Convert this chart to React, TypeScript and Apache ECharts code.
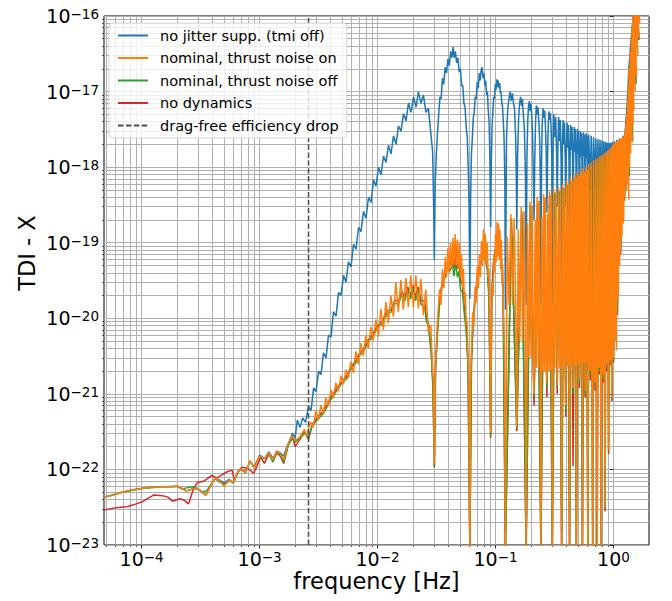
import React, { useEffect, useRef } from 'react';
import * as echarts from 'echarts';

type P = [number, number];

const X_MIN = 4.8e-5;
const X_MAX = 2.0;
const Y_MIN = 1e-23;
const Y_MAX = 1e-16;
const X_DECADES = [-4, -3, -2, -1, 0];
const Y_DECADES = [-23, -22, -21, -20, -19, -18, -17, -16];
const MINOR_MULTS = [2, 3, 4, 5, 6, 7, 8, 9];
const DROP_FREQ = 2.6e-3;

const NAMES = [
  'no jitter supp. (tmi off)',
  'nominal, thrust noise on',
  'nominal, thrust noise off',
  'no dynamics',
  'drag-free efficiency drop',
];

// blue: no jitter suppression
const noJitter: P[] = [
  [4.8e-5, 4.3e-23], [5.5e-5, 4.5e-23], [6.6e-5, 4.9e-23], [8.0e-5, 5.3e-23], [1.0e-4, 5.6e-23],
  [1.2e-4, 5.8e-23], [1.5e-4, 5.9e-23], [1.8e-4, 5.9e-23], [2.0e-4, 6.0e-23], [2.2e-4, 5.6e-23],
  [2.4e-4, 5.2e-23], [2.7e-4, 5.5e-23], [3.0e-4, 5.6e-23], [3.3e-4, 4.9e-23], [3.5e-4, 4.6e-23],
  [3.8e-4, 6.0e-23], [4.2e-4, 7.6e-23], [4.6e-4, 7.2e-23], [5.0e-4, 6.6e-23], [5.5e-4, 7.4e-23],
  [6.0e-4, 6.6e-23], [6.6e-4, 9.5e-23], [7.0e-4, 1.0e-22], [7.6e-4, 9.0e-23], [8.3e-4, 1.3e-22],
  [9.0e-4, 1.05e-22], [1.0e-3, 1.55e-22], [1.1e-3, 1.4e-22], [1.2e-3, 1.7e-22], [1.3e-3, 1.4e-22],
  [1.4e-3, 1.75e-22], [1.5e-3, 1.65e-22], [1.6e-3, 1.5e-22], [1.7e-3, 2.0e-22],
  [1.8e-3, 2.4e-22], [1.9e-3, 3.0e-22], [2.0e-3, 2.6e-22], [2.09e-3, 4.5e-22], [2.2e-3, 3.6e-22],
  [2.32e-3, 4.8e-22], [2.45e-3, 4.2e-22],
  [2.6e-3, 6.8e-22], [2.73e-3, 6.0e-22], [2.87e-3, 1.2e-21], [3.01e-3, 1.07e-21], [3.16e-3, 2.0e-21],
  [3.32e-3, 1.8e-21], [3.48e-3, 3.5e-21], [3.66e-3, 3.0e-21], [3.84e-3, 6.0e-21], [4.03e-3, 5.6e-21],
  [4.23e-3, 1.22e-20], [4.45e-3, 1.07e-20], [4.67e-3, 2.2e-20], [4.9e-3, 2.0e-20], [5.15e-3, 3.7e-20],
  [5.4e-3, 3.0e-20], [5.67e-3, 5.6e-20], [5.96e-3, 4.8e-20], [6.25e-3, 9.5e-20], [6.57e-3, 8.2e-20],
  [6.9e-3, 1.6e-19], [7.24e-3, 1.4e-19], [7.6e-3, 2.6e-19], [7.98e-3, 2.1e-19], [8.38e-3, 4.0e-19],
  [8.8e-3, 3.4e-19], [9.24e-3, 6.8e-19], [9.7e-3, 5.6e-19], [1.019e-2, 1.0e-18], [1.07e-2, 7.9e-19],
  [1.123e-2, 1.4e-18], [1.18e-2, 1.15e-18], [1.238e-2, 1.95e-18], [1.3e-2, 1.5e-18], [1.365e-2, 2.6e-18],
  [1.434e-2, 2.0e-18], [1.505e-2, 3.5e-18], [1.58e-2, 3.0e-18], [1.66e-2, 5.1e-18], [1.743e-2, 4.1e-18],
  [1.83e-2, 7.1e-18], [1.92e-2, 5.3e-18], [2.02e-2, 8.5e-18], [2.12e-2, 6.2e-18], [2.22e-2, 1.0e-17],
  [2.33e-2, 7.0e-18], [2.45e-2, 9.0e-18], [2.57e-2, 5.3e-18], [2.7e-2, 6.0e-18], [2.83e-2, 2.8e-18],
  [2.93e-2, 1.6e-18], [2.98e-2, 4e-19], [3.03e-2, 5.9e-20],
  [3.08e-2, 6e-19], [3.15e-2, 1.5e-18], [3.22e-2, 2.8e-18], [3.3e-2, 5.0e-18], [3.38e-2, 8.5e-18],
  [3.46e-2, 8.0e-18], [3.55e-2, 1.5e-17], [3.64e-2, 1.25e-17], [3.74e-2, 2.1e-17], [3.84e-2, 1.75e-17],
  [3.95e-2, 2.7e-17], [4.06e-2, 2.2e-17], [4.17e-2, 3.4e-17], [4.28e-2, 2.8e-17], [4.37e-2, 3.9e-17],
  [4.47e-2, 2.8e-17], [4.57e-2, 3.4e-17], [4.68e-2, 2.4e-17], [4.8e-2, 2.8e-17], [4.92e-2, 1.8e-17],
  [5.04e-2, 2.0e-17], [5.16e-2, 1.2e-17], [5.28e-2, 1.2e-17], [5.4e-2, 7.0e-18], [5.52e-2, 6.2e-18],
  [5.64e-2, 3.4e-18], [5.76e-2, 2.5e-18], [5.87e-2, 1.0e-18], [5.97e-2, 3e-19], [6.06e-2, 1.8e-20],
  [6.15e-2, 4e-19], [6.25e-2, 1.5e-18], [6.36e-2, 2.4e-18], [6.48e-2, 4.5e-18], [6.6e-2, 5.2e-18],
  [6.73e-2, 8.5e-18], [6.86e-2, 8.0e-18], [7.0e-2, 1.35e-17], [7.14e-2, 1.1e-17], [7.28e-2, 1.75e-17],
  [7.42e-2, 1.4e-17], [7.56e-2, 1.95e-17], [7.7e-2, 2.1e-17], [7.84e-2, 1.5e-17], [7.98e-2, 1.75e-17],
  [8.12e-2, 1.2e-17], [8.26e-2, 1.4e-17], [8.4e-2, 9.0e-18], [8.54e-2, 1.0e-17], [8.68e-2, 5.5e-18],
  [8.82e-2, 4.0e-18], [8.95e-2, 1.5e-18], [9.09e-2, 1.6e-19],
  [9.2e-2, 1.0e-18], [9.35e-2, 3.5e-18], [9.5e-2, 5.5e-18], [9.65e-2, 8.5e-18], [9.8e-2, 8.0e-18],
  [9.95e-2, 1.25e-17], [0.101, 1.05e-17], [0.1025, 1.45e-17], [0.104, 1.15e-17], [0.1055, 1.4e-17],
  [0.107, 1.1e-17], [0.1085, 1.3e-17], [0.11, 9.5e-18], [0.1115, 1.0e-17], [0.113, 7.0e-18],
  [0.1145, 6.5e-18], [0.116, 4.5e-18], [0.1175, 3.0e-18], [0.119, 1.5e-18], [0.1202, 5e-19],
  [0.1212, 1.3e-20],
  [0.124, 2.5e-18], [0.127, 6e-18], [0.13, 8e-18], [0.133, 1.0e-17], [0.136, 7.5e-18], [0.139, 9.5e-18],
  [0.142, 7e-18], [0.145, 6e-18], [0.148, 2.5e-18], [0.15, 8e-19], [0.1515, 1.5e-19],
  [0.154, 1.5e-18], [0.157, 4.5e-18], [0.16, 7e-18], [0.163, 8.5e-18], [0.166, 6.5e-18], [0.169, 8e-18],
  [0.172, 5e-18], [0.176, 3e-18], [0.1795, 7e-19], [0.1818, 1.5e-20],
  [0.1845, 1.2e-18], [0.1875, 4e-18], [0.1905, 6.5e-18], [0.1935, 7.5e-18], [0.1965, 5.5e-18],
  [0.1995, 7e-18], [0.2025, 5e-18], [0.206, 2.8e-18], [0.2095, 6e-19], [0.2121, 2e-19],
  [0.215, 1.2e-18], [0.2185, 4e-18], [0.222, 6.6e-18], [0.2255, 5e-18], [0.229, 6.2e-18], [0.233, 4e-18],
  [0.237, 2.2e-18], [0.24, 6e-19], [0.2424, 1.5e-20],
  [0.2455, 1.2e-18], [0.249, 3.8e-18], [0.253, 6e-18], [0.257, 4.5e-18], [0.261, 5.6e-18], [0.265, 3.5e-18],
  [0.269, 1.6e-18], [0.2727, 2.5e-19],
  [0.276, 1.2e-18], [0.28, 3.8e-18], [0.284, 5.5e-18], [0.288, 4.2e-18], [0.292, 5.2e-18], [0.296, 3.2e-18],
  [0.3, 1.3e-18], [0.303, 1.5e-20],
  [0.308, 2e-18], [0.312, 5e-18], [0.318, 2.5e-18], [0.324, 4.6e-18], [0.33, 1.3e-18], [0.3333, 3e-19],
  [0.338, 2e-18], [0.343, 4.6e-18], [0.3485, 2.2e-18], [0.354, 4.2e-18], [0.36, 1.2e-18], [0.3636, 1.5e-20],
  [0.369, 2e-18], [0.374, 4.2e-18], [0.379, 2e-18], [0.3845, 3.9e-18], [0.39, 1.2e-18], [0.3939, 3e-19],
  [0.399, 1.8e-18], [0.404, 3.9e-18], [0.409, 1.8e-18], [0.4145, 3.6e-18], [0.42, 1.1e-18], [0.4242, 1.5e-20],
  [0.429, 1.8e-18], [0.434, 3.6e-18], [0.4395, 1.7e-18], [0.445, 3.4e-18], [0.4505, 1.1e-18], [0.4545, 3e-19],
  [0.46, 1.6e-18], [0.465, 3.4e-18], [0.47, 1.6e-18], [0.4755, 3.2e-18], [0.481, 1.1e-18], [0.4848, 1.5e-20],
  [0.49, 1.5e-18], [0.495, 3.2e-18], [0.5, 1.5e-18], [0.5055, 3.0e-18], [0.511, 1.0e-18], [0.5152, 4e-19],
  [0.52, 1.5e-18], [0.5255, 3.0e-18], [0.5305, 1.4e-18], [0.536, 2.8e-18], [0.5415, 1.0e-18], [0.5455, 1.5e-20],
  [0.5505, 1.4e-18], [0.556, 2.9e-18], [0.561, 1.4e-18], [0.5665, 2.7e-18], [0.572, 1.0e-18], [0.5758, 4e-19],
  [0.581, 1.4e-18], [0.5865, 2.8e-18], [0.5915, 1.3e-18], [0.597, 2.6e-18], [0.6025, 1.0e-18], [0.6061, 1.5e-20],
  [0.6167, 2.7e-18], [0.6258, 1.3e-18], [0.6364, 5e-19],
  [0.647, 2.6e-18], [0.6561, 1.3e-18], [0.6667, 2e-20],
  [0.6773, 2.5e-18], [0.6864, 1.3e-18], [0.697, 5e-19],
  [0.7076, 2.4e-18], [0.7167, 1.3e-18], [0.7273, 2e-20],
  [0.7379, 2.35e-18], [0.747, 1.35e-18], [0.7576, 6e-19],
  [0.7682, 2.3e-18], [0.7773, 1.35e-18], [0.7879, 3e-20],
  [0.7985, 2.25e-18], [0.8076, 1.4e-18], [0.8182, 7e-19],
  [0.8288, 2.2e-18], [0.8379, 1.4e-18], [0.8485, 5e-20],
  [0.8591, 2.15e-18], [0.8682, 1.45e-18], [0.8788, 8e-19],
  [0.8894, 2.1e-18], [0.8985, 1.5e-18], [0.9091, 1e-19],
  [0.9197, 2.1e-18], [0.9288, 1.5e-18], [0.9394, 9e-19],
  [0.95, 2.1e-18], [0.9591, 1.55e-18], [0.9697, 2e-19],
  [0.9803, 2.15e-18], [0.9894, 1.6e-18], [1.0, 9e-19],
  [1.02, 2.2e-18], [1.04, 1.5e-18], [1.07, 2.3e-18], [1.1, 1.6e-18], [1.13, 2.4e-18], [1.16, 1.7e-18],
  [1.2, 2.5e-18], [1.24, 2.6e-18], [1.28, 4e-18], [1.31, 7.5e-18], [1.35, 2e-17], [1.41, 5e-17],
  [1.48, 1e-16], [1.55, 2e-16],
];

// orange: nominal, thrust noise on
const thrustOn: P[] = [
  [4.8e-5, 4.3e-23], [5.5e-5, 4.5e-23], [6.6e-5, 4.9e-23], [8.0e-5, 5.3e-23], [1.0e-4, 5.6e-23],
  [1.2e-4, 5.8e-23], [1.5e-4, 5.9e-23], [1.8e-4, 5.9e-23], [2.0e-4, 6.0e-23], [2.2e-4, 5.6e-23],
  [2.4e-4, 5.2e-23], [2.7e-4, 5.5e-23], [3.0e-4, 5.6e-23], [3.3e-4, 4.9e-23], [3.5e-4, 4.5e-23],
  [3.8e-4, 5.8e-23], [4.2e-4, 7.8e-23], [4.6e-4, 7.0e-23], [5.0e-4, 6.0e-23], [5.5e-4, 7.3e-23],
  [6.0e-4, 6.6e-23], [6.6e-4, 9.5e-23], [7.0e-4, 1.0e-22], [7.6e-4, 9.0e-23], [8.3e-4, 1.3e-22],
  [9.0e-4, 1.05e-22], [1.0e-3, 1.5e-22], [1.1e-3, 1.4e-22], [1.2e-3, 1.65e-22], [1.3e-3, 1.35e-22],
  [1.4e-3, 1.75e-22], [1.5e-3, 1.6e-22], [1.6e-3, 1.35e-22], [1.75e-3, 2.2e-22], [1.9e-3, 2.8e-22],
  [2.0e-3, 2.4e-22], [2.2e-3, 2.7e-22], [2.4e-3, 3.4e-22], [2.5e-3, 2.8e-22], [2.7e-3, 4.2e-22],
  [2.85e-3, 3.6e-22],
  [3.0e-3, 6.0e-22], [3.15e-3, 4.5e-22], [3.31e-3, 7.1e-22], [3.47e-3, 5.4e-22], [3.65e-3, 8.8e-22],
  [3.83e-3, 6.8e-22], [4.02e-3, 1.14e-21], [4.22e-3, 8.8e-22], [4.43e-3, 1.4e-21], [4.65e-3, 1.08e-21],
  [4.89e-3, 1.74e-21], [5.13e-3, 1.33e-21], [5.39e-3, 2.1e-21], [5.66e-3, 1.62e-21], [5.94e-3, 2.65e-21],
  [6.24e-3, 1.9e-21], [6.55e-3, 3.65e-21], [6.88e-3, 2.45e-21], [7.22e-3, 4.7e-21], [7.58e-3, 3.15e-21],
  [7.96e-3, 6.0e-21], [8.36e-3, 4.0e-21], [8.78e-3, 7.7e-21], [9.22e-3, 5.1e-21], [9.68e-3, 9.6e-21],
  [1.016e-2, 5.7e-21], [1.067e-2, 1.33e-20], [1.12e-2, 7.0e-21], [1.176e-2, 1.64e-20], [1.235e-2, 8.6e-21],
  [1.297e-2, 2.0e-20], [1.362e-2, 1.05e-20], [1.43e-2, 3.0e-20], [1.5e-2, 1.2e-20], [1.576e-2, 3.2e-20],
  [1.655e-2, 1.3e-20], [1.738e-2, 3.4e-20], [1.825e-2, 1.4e-20], [1.916e-2, 3.7e-20], [2.012e-2, 1.4e-20],
  [2.112e-2, 3.7e-20], [2.218e-2, 1.35e-20], [2.329e-2, 3.3e-20], [2.445e-2, 1.1e-20], [2.567e-2, 2.4e-20],
  [2.696e-2, 6.5e-21], [2.83e-2, 8.0e-21], [2.93e-2, 2.0e-21], [2.98e-2, 1.5e-21], [3.03e-2, 1.2e-22],
  [3.1e-2, 2.5e-21], [3.2e-2, 7.5e-21], [3.35e-2, 2.4e-20], [3.45e-2, 1.5e-20], [3.55e-2, 4.5e-20],
  [3.65e-2, 2.5e-20], [3.75e-2, 6.5e-20], [3.85e-2, 3.5e-20], [3.95e-2, 8.5e-20], [4.05e-2, 4.0e-20],
  [4.15e-2, 1.0e-19], [4.25e-2, 4.5e-20], [4.35e-2, 1.15e-19], [4.45e-2, 5.0e-20], [4.55e-2, 1.3e-19],
  [4.65e-2, 5.0e-20], [4.75e-2, 1.1e-19], [4.85e-2, 4.5e-20], [4.95e-2, 1.0e-19], [5.05e-2, 3.5e-20],
  [5.15e-2, 7.0e-20], [5.25e-2, 2.5e-20], [5.35e-2, 4.5e-20], [5.45e-2, 1.5e-20], [5.55e-2, 2.2e-20],
  [5.65e-2, 8e-21], [5.75e-2, 9e-21], [5.85e-2, 3.0e-21], [5.95e-2, 1.5e-21], [6.06e-2, 8e-24],
  [6.15e-2, 1.5e-21], [6.25e-2, 3.5e-21], [6.4e-2, 1.2e-20], [6.55e-2, 8e-21], [6.7e-2, 2.6e-20],
  [6.85e-2, 1.6e-20], [7.0e-2, 4.8e-20], [7.15e-2, 2.5e-20], [7.3e-2, 7.0e-20], [7.45e-2, 3.5e-20],
  [7.6e-2, 1.05e-19], [7.75e-2, 5e-20], [7.9e-2, 1.5e-19], [8.05e-2, 6e-20], [8.2e-2, 1.3e-19],
  [8.35e-2, 5e-20], [8.5e-2, 1.0e-19], [8.65e-2, 3.5e-20], [8.8e-2, 4.5e-20], [8.95e-2, 8e-21],
  [9.09e-2, 3.1e-22],
  [9.25e-2, 1.0e-20], [9.4e-2, 3.0e-20], [9.55e-2, 2.0e-20], [9.7e-2, 7.0e-20], [9.85e-2, 4.0e-20],
  [0.1, 1.3e-19], [0.1015, 5.5e-20], [0.103, 1.9e-19], [0.1045, 6.5e-20], [0.106, 1.8e-19],
  [0.1075, 6.0e-20], [0.109, 1.5e-19], [0.1105, 4.5e-20], [0.112, 1.1e-19], [0.1135, 3.0e-20],
  [0.115, 5.0e-20], [0.1165, 1.5e-20], [0.118, 1.5e-20], [0.1195, 3.0e-21], [0.1212, 8e-24],
  [0.1257, 1.2e-19], [0.1303, 1.5e-20], [0.1348, 2.4e-19], [0.1394, 1.5e-20], [0.1439, 2.1e-19], [0.1485, 1.2e-20], [0.1515, 3.7e-22],
  [0.156, 1.5e-19], [0.1606, 5e-21], [0.1651, 3.0e-19], [0.1697, 5e-21], [0.1742, 2.6e-19], [0.1788, 4e-21], [0.1818, 8e-24],
  [0.1863, 1.8e-19], [0.1909, 3e-21], [0.1954, 3.5e-19], [0.2, 3e-21], [0.2045, 3.1e-19], [0.2091, 2.5e-21], [0.2121, 1.0e-21],
  [0.2166, 2.0e-19], [0.2212, 2.2e-21], [0.2257, 4.0e-19], [0.2303, 2.2e-21], [0.2348, 3.6e-19], [0.2394, 2e-21], [0.2424, 8e-24],
  [0.2469, 2.2e-19], [0.2515, 2e-21], [0.256, 4.4e-19], [0.2606, 2e-21], [0.2651, 4.0e-19], [0.2697, 2e-21], [0.2727, 1.4e-21],
  [0.2772, 2.4e-19], [0.2818, 2e-21], [0.2863, 4.8e-19], [0.2909, 2e-21], [0.2954, 4.3e-19], [0.3, 2e-21], [0.303, 8e-24],
  [0.3106, 5.2e-19], [0.3182, 2.2e-21], [0.3258, 4.7e-19], [0.3333, 1.3e-21],
  [0.3409, 5.5e-19], [0.3485, 2.2e-21], [0.3561, 5.0e-19], [0.3636, 8e-24],
  [0.3712, 6.0e-19], [0.3788, 2.3e-21], [0.3864, 5.4e-19], [0.3939, 7e-22],
  [0.4015, 6.6e-19], [0.4091, 2.3e-21], [0.4167, 6.0e-19], [0.4242, 8e-24],
  [0.4318, 7.3e-19], [0.4394, 2.4e-21], [0.447, 6.6e-19], [0.4545, 1.2e-21],
  [0.4621, 8.0e-19], [0.4697, 2.4e-21], [0.4773, 7.2e-19], [0.4848, 8e-24],
  [0.4924, 8.5e-19], [0.5, 2.5e-21], [0.5076, 7.7e-19], [0.5152, 1.6e-21],
  [0.5228, 9.0e-19], [0.5303, 2.5e-21], [0.5379, 8.1e-19], [0.5455, 8e-24],
  [0.5531, 9.6e-19], [0.5606, 2.6e-21], [0.5682, 8.6e-19], [0.5758, 1.1e-21],
  [0.5834, 1.02e-18], [0.5909, 2.6e-21], [0.5985, 9.2e-19], [0.6061, 8e-24],
  [0.6167, 1.1e-18], [0.6258, 2.8e-21], [0.6364, 2e-21],
  [0.647, 1.15e-18], [0.6561, 2.8e-21], [0.6667, 8e-24],
  [0.6773, 1.22e-18], [0.6864, 3e-21], [0.697, 1.4e-21],
  [0.7076, 1.28e-18], [0.7167, 3e-21], [0.7273, 8e-24],
  [0.7379, 1.33e-18], [0.747, 3e-21], [0.7576, 2.2e-21],
  [0.7682, 1.4e-18], [0.7773, 3.2e-21], [0.7879, 8e-24],
  [0.7985, 1.45e-18], [0.8076, 3.2e-21], [0.8182, 1.8e-21],
  [0.8288, 1.5e-18], [0.8379, 3.4e-21], [0.8485, 3.1e-23],
  [0.8591, 1.58e-18], [0.8682, 3.4e-21], [0.8788, 2.5e-21],
  [0.8894, 1.65e-18], [0.8985, 3.5e-21], [0.9091, 1.8e-22],
  [0.9197, 1.72e-18], [0.9288, 3.5e-21], [0.9394, 2.8e-21],
  [0.95, 1.82e-18], [0.9591, 3.6e-21], [0.9697, 8.9e-22],
  [0.9803, 1.95e-18], [0.9894, 3.6e-21], [1.0, 3e-21],
  [1.005, 2.0e-18], [1.015, 6e-21], [1.025, 2.1e-18], [1.04, 5e-21], [1.05, 2.15e-18], [1.06, 3.8e-21],
  [1.07, 2.2e-18], [1.085, 1.7e-20], [1.095, 2.25e-18], [1.1, 2.1e-20], [1.115, 2.3e-18], [1.13, 5e-20],
  [1.14, 2.35e-18], [1.146, 7.9e-20], [1.16, 2.4e-18], [1.18, 1.2e-19], [1.19, 2.45e-18], [1.21, 1.8e-19],
  [1.215, 2.5e-18], [1.22, 2e-19], [1.235, 2.6e-18], [1.24, 4.1e-19],
  [1.25, 3.0e-18], [1.29, 5e-19], [1.27, 3.6e-18], [1.32, 6e-19], [1.29, 5e-18], [1.35, 3.7e-19],
  [1.31, 7.5e-18], [1.37, 1.0e-18], [1.33, 1.2e-17], [1.4, 1.5e-18], [1.35, 2.0e-17], [1.44, 2.1e-18],
  [1.38, 3.4e-17], [1.47, 3.8e-18], [1.41, 5.0e-17], [1.49, 5.7e-18], [1.43, 7.5e-17], [1.53, 1.0e-17],
  [1.45, 1.05e-16], [1.57, 1.6e-17], [1.5, 1.3e-16], [1.61, 3.0e-17], [1.53, 1.5e-16], [1.64, 5.3e-17],
  [1.57, 1.8e-16], [1.67, 8e-17], [1.6, 2e-16], [1.69, 1.0e-16], [1.72, 2e-16],
];

// green: nominal, thrust noise off
const thrustOff: P[] = [
  [4.8e-5, 4.3e-23], [6.6e-5, 4.9e-23], [1.0e-4, 5.6e-23], [1.5e-4, 5.9e-23], [2.0e-4, 6.0e-23],
  [2.2e-4, 5.5e-23], [2.4e-4, 5.7e-23], [2.7e-4, 5.9e-23], [3.0e-4, 5.5e-23], [3.3e-4, 5.0e-23],
  [3.6e-4, 5.3e-23], [4.2e-4, 7.6e-23], [4.6e-4, 6.8e-23], [5.0e-4, 6.3e-23], [5.5e-4, 7.0e-23],
  [6.0e-4, 6.8e-23], [6.6e-4, 9.3e-23], [7.0e-4, 1.02e-22], [7.6e-4, 9.2e-23], [8.3e-4, 1.28e-22],
  [9.0e-4, 1.08e-22], [1.0e-3, 1.48e-22], [1.1e-3, 1.38e-22], [1.2e-3, 1.6e-22], [1.3e-3, 1.25e-22],
  [1.4e-3, 1.7e-22], [1.5e-3, 1.55e-22], [1.6e-3, 1.25e-22], [1.75e-3, 2.1e-22], [1.9e-3, 2.6e-22],
  [2.0e-3, 2.3e-22], [2.2e-3, 2.6e-22], [2.4e-3, 3.0e-22], [2.6e-3, 2.7e-22], [2.8e-3, 3.8e-22],
  [3.0e-3, 4.3e-22], [3.5e-3, 5.6e-22], [4.0e-3, 8.3e-22], [4.5e-3, 1.1e-21], [5.0e-3, 1.4e-21],
  [5.5e-3, 1.6e-21], [6.0e-3, 2.2e-21], [6.5e-3, 2.5e-21], [7.0e-3, 3.2e-21], [7.6e-3, 3.6e-21],
  [8.2e-3, 4.8e-21], [9.0e-3, 5.5e-21], [1.0e-2, 7.5e-21], [1.1e-2, 8.5e-21], [1.2e-2, 1.15e-20],
  [1.3e-2, 1.2e-20], [1.4e-2, 1.6e-20], [1.5e-2, 1.5e-20], [1.6e-2, 2.1e-20], [1.7e-2, 1.7e-20],
  [1.8e-2, 2.4e-20], [1.9e-2, 1.8e-20], [2.0e-2, 2.5e-20], [2.1e-2, 1.7e-20], [2.2e-2, 2.4e-20],
  [2.35e-2, 1.5e-20], [2.5e-2, 1.5e-20], [2.6e-2, 9e-21], [2.7e-2, 8e-21], [2.85e-2, 3.5e-21],
  [2.95e-2, 1.2e-21], [3.03e-2, 1.1e-22],
  [3.1e-2, 2.0e-21], [3.2e-2, 5.5e-21], [3.35e-2, 1.5e-20], [3.5e-2, 2.5e-20], [3.7e-2, 3.3e-20],
  [3.9e-2, 4.5e-20], [4.1e-2, 4.2e-20], [4.3e-2, 5.2e-20], [4.45e-2, 3.6e-20], [4.6e-2, 5.5e-20],
  [4.75e-2, 3.5e-20], [4.9e-2, 4.2e-20], [5.05e-2, 2.4e-20], [5.25e-2, 2.2e-20], [5.45e-2, 1.1e-20],
  [5.65e-2, 6.5e-21], [5.85e-2, 2.2e-21], [6.06e-2, 8e-24],
  [6.25e-2, 2.5e-21], [6.45e-2, 8e-21], [6.7e-2, 1.6e-20], [7.0e-2, 3.0e-20], [7.3e-2, 4.2e-20],
  [7.6e-2, 5.8e-20], [7.9e-2, 6.5e-20], [8.2e-2, 6.0e-20], [8.5e-2, 4.5e-20], [8.8e-2, 1.8e-20],
  [9.09e-2, 2.8e-22],
  [9.3e-2, 1.8e-20], [9.6e-2, 4.5e-20], [0.1, 7.0e-20], [0.104, 9e-20], [0.108, 7.5e-20],
  [0.112, 5.5e-20], [0.116, 2e-20], [0.1212, 8e-24],
  [0.1363, 2.1e-19], [0.1515, 3.5e-22], [0.1667, 2.6e-19], [0.1818, 8e-24], [0.197, 3.1e-19], [0.2121, 9e-22],
  [0.2273, 3.5e-19], [0.2424, 8e-24], [0.2576, 3.9e-19], [0.2727, 1.2e-21], [0.2879, 4.2e-19], [0.303, 8e-24],
  [0.3182, 4.6e-19], [0.3333, 1.2e-21], [0.3485, 4.8e-19], [0.3636, 8e-24], [0.3788, 5.3e-19], [0.3939, 6e-22],
  [0.4091, 5.8e-19], [0.4242, 8e-24], [0.4394, 6.4e-19], [0.4545, 1.0e-21], [0.4697, 7.0e-19], [0.4848, 8e-24],
  [0.5, 7.5e-19], [0.5152, 1.4e-21], [0.5303, 7.9e-19], [0.5455, 8e-24], [0.5606, 8.4e-19], [0.5758, 1.0e-21],
  [0.5909, 9.0e-19], [0.6061, 8e-24], [0.6212, 9.7e-19], [0.6364, 1.8e-21], [0.6515, 1.0e-18], [0.6667, 8e-24],
  [0.6818, 1.07e-18], [0.697, 1.3e-21], [0.7121, 1.13e-18], [0.7273, 8e-24], [0.7424, 1.17e-18], [0.7576, 2.0e-21],
  [0.7727, 1.23e-18], [0.7879, 8e-24], [0.803, 1.28e-18], [0.8182, 1.6e-21], [0.8333, 1.32e-18], [0.8485, 3.0e-23],
  [0.8636, 1.39e-18], [0.8788, 2.3e-21], [0.8939, 1.45e-18], [0.9091, 1.8e-22], [0.9242, 1.51e-18], [0.9394, 2.6e-21],
  [0.9545, 1.6e-18], [0.9697, 8.5e-22], [0.9848, 1.72e-18], [1.0, 2.8e-21],
  [1.05, 2.0e-18], [1.08, 1.2e-20], [1.12, 2.2e-18], [1.15, 8e-20], [1.2, 2.4e-18], [1.24, 3.8e-19],
  [1.29, 4.8e-18], [1.36, 8e-19], [1.36, 2.2e-17], [1.45, 2.3e-18], [1.43, 7.5e-17], [1.55, 1.3e-17],
  [1.5, 1.3e-16], [1.64, 5e-17], [1.58, 2e-16], [1.69, 1.1e-16],
];

// red: no dynamics
const noDynamics: P[] = [
  [4.8e-5, 2.9e-23], [6.0e-5, 3.1e-23], [7.5e-5, 3.2e-23], [9.0e-5, 3.5e-23], [1.0e-4, 3.7e-23],
  [1.27e-4, 4.6e-23], [1.5e-4, 4.5e-23], [1.67e-4, 4.3e-23], [1.83e-4, 3.8e-23], [2.1e-4, 4.1e-23],
  [2.3e-4, 3.9e-23], [2.5e-4, 3.5e-23], [2.75e-4, 5.5e-23], [2.96e-4, 6.7e-23], [3.3e-4, 6.9e-23],
  [3.6e-4, 7.5e-23], [3.9e-4, 8.3e-23], [4.4e-4, 7.7e-23], [4.8e-4, 8.5e-23], [5.3e-4, 9.3e-23],
  [5.85e-4, 9.8e-23], [6.1e-4, 7.2e-23], [6.6e-4, 9.5e-23], [7.1e-4, 1.07e-22], [8.0e-4, 1.03e-22],
  [8.9e-4, 8.9e-23], [9.5e-4, 1.1e-22], [1.02e-3, 1.45e-22], [1.1e-3, 1.2e-22], [1.2e-3, 1.6e-22],
  [1.3e-3, 1.3e-22], [1.4e-3, 1.65e-22], [1.5e-3, 1.5e-22], [1.6e-3, 1.2e-22], [1.75e-3, 2.1e-22],
  [1.9e-3, 2.7e-22], [2.0e-3, 2.0e-22], [2.2e-3, 2.5e-22], [2.4e-3, 3.2e-22], [2.6e-3, 2.5e-22],
  [2.8e-3, 3.9e-22],
  [3.0e-3, 4.6e-22], [3.5e-3, 6.0e-22], [4.0e-3, 8.8e-22], [4.5e-3, 1.2e-21], [5.0e-3, 1.45e-21],
  [5.5e-3, 1.75e-21], [6.0e-3, 2.3e-21], [6.5e-3, 2.7e-21], [7.0e-3, 3.4e-21], [7.6e-3, 3.9e-21],
  [8.2e-3, 5.0e-21], [9.0e-3, 6.0e-21], [1.0e-2, 8.0e-21], [1.1e-2, 9.2e-21], [1.2e-2, 1.25e-20],
  [1.3e-2, 1.3e-20], [1.4e-2, 1.75e-20], [1.5e-2, 1.65e-20], [1.6e-2, 2.3e-20], [1.7e-2, 1.9e-20],
  [1.8e-2, 2.6e-20], [1.9e-2, 2.0e-20], [2.0e-2, 2.7e-20], [2.1e-2, 1.9e-20], [2.2e-2, 2.6e-20],
  [2.35e-2, 1.7e-20], [2.5e-2, 1.7e-20], [2.6e-2, 1.0e-20], [2.7e-2, 8.5e-21], [2.85e-2, 3.8e-21],
  [2.95e-2, 1.3e-21], [3.03e-2, 1.05e-22],
  [3.1e-2, 2.2e-21], [3.2e-2, 6e-21], [3.35e-2, 1.7e-20], [3.5e-2, 2.8e-20], [3.7e-2, 3.8e-20],
  [3.9e-2, 5.2e-20], [4.1e-2, 5.0e-20], [4.3e-2, 6.5e-20], [4.45e-2, 4.6e-20], [4.6e-2, 7.0e-20],
  [4.75e-2, 4.5e-20], [4.9e-2, 5.5e-20], [5.05e-2, 3.2e-20], [5.25e-2, 2.8e-20], [5.45e-2, 1.4e-20],
  [5.65e-2, 8e-21], [5.85e-2, 2.6e-21], [6.06e-2, 8e-24],
  [6.25e-2, 2.8e-21], [6.45e-2, 9e-21], [6.7e-2, 1.9e-20], [7.0e-2, 3.5e-20], [7.3e-2, 5.0e-20],
  [7.6e-2, 7.0e-20], [7.9e-2, 9.0e-20], [8.2e-2, 8.0e-20], [8.5e-2, 5.5e-20], [8.8e-2, 2.2e-20],
  [9.09e-2, 2.6e-22],
  [9.3e-2, 2.2e-20], [9.6e-2, 5.5e-20], [0.1, 8.5e-20], [0.104, 1.1e-19], [0.108, 9e-20],
  [0.112, 6.5e-20], [0.116, 2.4e-20], [0.1212, 8e-24],
  [0.1363, 2.0e-19], [0.1515, 3.2e-22], [0.1667, 2.5e-19], [0.1818, 8e-24], [0.197, 3.0e-19], [0.2121, 7e-22],
  [0.2273, 3.4e-19], [0.2424, 8e-24], [0.2576, 3.7e-19], [0.2727, 9e-22], [0.2879, 4.1e-19], [0.303, 8e-24],
  [0.3182, 4.4e-19], [0.3333, 1.0e-21], [0.3485, 4.7e-19], [0.3636, 8e-24], [0.3788, 5.1e-19], [0.3939, 5e-22],
  [0.4091, 5.6e-19], [0.4242, 8e-24], [0.4394, 6.2e-19], [0.4545, 1.1e-22], [0.4697, 6.8e-19], [0.4848, 8e-24],
  [0.5, 7.2e-19], [0.5152, 1.2e-21], [0.5303, 7.6e-19], [0.5455, 8e-24], [0.5606, 8.2e-19], [0.5758, 9e-22],
  [0.5909, 8.7e-19], [0.6061, 8e-24], [0.6212, 9.4e-19], [0.6364, 1.5e-21], [0.6515, 9.8e-19], [0.6667, 8e-24],
  [0.6818, 1.04e-18], [0.697, 1.1e-21], [0.7121, 1.09e-18], [0.7273, 8e-24], [0.7424, 1.13e-18], [0.7576, 1.8e-21],
  [0.7727, 1.19e-18], [0.7879, 8e-24], [0.803, 1.23e-18], [0.8182, 1.4e-21], [0.8333, 1.28e-18], [0.8485, 2.8e-23],
  [0.8636, 1.34e-18], [0.8788, 2.0e-21], [0.8939, 1.4e-18], [0.9091, 1.6e-22], [0.9242, 1.46e-18], [0.9394, 2.4e-21],
  [0.9545, 1.55e-18], [0.9697, 8e-22], [0.9848, 1.66e-18], [1.0, 2.6e-21],
  [1.05, 1.9e-18], [1.08, 1.1e-20], [1.12, 2.1e-18], [1.15, 7e-20], [1.2, 2.3e-18], [1.24, 3.6e-19],
  [1.29, 4.6e-18], [1.36, 7.5e-19], [1.36, 2.1e-17], [1.45, 2.2e-18], [1.43, 7.2e-17], [1.55, 1.25e-17],
  [1.5, 1.25e-16], [1.64, 4.8e-17], [1.58, 2e-16], [1.69, 1.05e-16],
];

const dragFreeDrop: P[] = [[DROP_FREQ, Y_MIN], [DROP_FREQ, Y_MAX]];

const FONT = 'DejaVu Sans';
const GRID_COLOR = '#b0b0b0';

function minorValues(eFrom: number, eTo: number, lo: number, hi: number): number[] {
  const out: number[] = [];
  for (let e = eFrom; e <= eTo; e++) {
    for (const m of MINOR_MULTS) {
      const v = m * Math.pow(10, e);
      if (v > lo * 1.0001 && v < hi * 0.9999) out.push(v);
    }
  }
  return out;
}

const supLabel = (v: number) => {
  const r = Math.round(v);
  const exp = r < 0 ? '\u2212' + Math.abs(r) : String(r);
  return '{b|10}{s|' + exp + '}';
};

const labelRich = {
  b: { fontSize: 19, fontFamily: FONT, color: '#000', lineHeight: 18 },
  s: { fontSize: 13.5, fontFamily: FONT, color: '#000', lineHeight: 9, verticalAlign: 'top' },
};

export default function App() {
  const ref = useRef<HTMLDivElement>(null);

  useEffect(() => {
    if (!ref.current) return;
    const chart = echarts.init(ref.current, undefined, { renderer: 'svg' });

    const minorX = minorValues(-5, 0, X_MIN, X_MAX).map((v) => Math.log10(v));
    const minorY = minorValues(-23, -17, Y_MIN, Y_MAX).map((v) => Math.log10(v));
    const xLo = Math.log10(X_MIN);
    const xHi = Math.log10(X_MAX);
    const yLo = Math.log10(Y_MIN);
    const yHi = Math.log10(Y_MAX);

    const lineSeries = (name: string, data: P[], color: string, z: number, type: any = 'solid') => ({
      type: 'line',
      name,
      data,
      xAxisIndex: 0,
      yAxisIndex: 0,
      showSymbol: false,
      symbol: 'none',
      silent: true,
      clip: true,
      z,
      lineStyle: { color, width: 1.5, type },
      itemStyle: { color },
      emphasis: { disabled: true },
    });

    const gridLine = { show: true, lineStyle: { color: GRID_COLOR, width: 1, type: 'solid' } };

    chart.setOption({
      animation: false,
      backgroundColor: '#ffffff',
      textStyle: { fontFamily: FONT },
      grid: {
        left: 104,
        right: 23,
        top: 16,
        bottom: 56,
        show: true,
        borderColor: '#000',
        borderWidth: 1,
        backgroundColor: 'transparent',
        outerBoundsMode: 'none',
      },
      legend: {
        show: true,
        orient: 'vertical',
        left: 109,
        top: 23,
        data: NAMES,
        itemWidth: 30,
        itemHeight: 14,
        itemGap: 7.5,
        padding: [5, 8, 5, 8],
        backgroundColor: 'rgba(255,255,255,0.8)',
        borderColor: 'rgba(204,204,204,0.8)',
        borderWidth: 1,
        borderRadius: 4,
        selectedMode: false,
        z: 20,
        itemStyle: { opacity: 0, borderWidth: 0 },
        textStyle: { fontSize: 14.5, fontFamily: FONT, color: '#000', lineHeight: 14, padding: [0, 0, 0, 7] },
      },
      xAxis: [
        { type: 'log', logBase: 10, min: X_MIN, max: X_MAX, show: false, position: 'bottom' },
        {
          type: 'value',
          position: 'bottom',
          min: xLo,
          max: xHi,
          axisLine: { show: false },
          splitLine: gridLine,
          axisTick: { show: true, length: 3.5, customValues: X_DECADES, lineStyle: { color: '#000', width: 0.8 } },
          axisLabel: { show: true, customValues: X_DECADES, formatter: supLabel, rich: labelRich, margin: 5 },
        },
        {
          type: 'value',
          position: 'bottom',
          min: xLo,
          max: xHi,
          axisLine: { show: false },
          splitLine: gridLine,
          axisTick: { show: true, length: 2, customValues: minorX, lineStyle: { color: '#000', width: 0.6 } },
          axisLabel: { show: false },
        },
      ],
      yAxis: [
        { type: 'log', logBase: 10, min: Y_MIN, max: Y_MAX, show: false, position: 'left' },
        {
          type: 'value',
          position: 'left',
          min: yLo,
          max: yHi,
          axisLine: { show: false },
          splitLine: gridLine,
          axisTick: { show: true, length: 3.5, customValues: Y_DECADES, lineStyle: { color: '#000', width: 0.8 } },
          axisLabel: { show: true, customValues: Y_DECADES, formatter: supLabel, rich: labelRich, margin: 5 },
        },
        {
          type: 'value',
          position: 'left',
          min: yLo,
          max: yHi,
          axisLine: { show: false },
          splitLine: gridLine,
          axisTick: { show: true, length: 2, customValues: minorY, lineStyle: { color: '#000', width: 0.6 } },
          axisLabel: { show: false },
        },
      ],
      graphic: [
        {
          type: 'text',
          x: 376.5,
          y: 581,
          silent: true,
          style: { text: 'frequency [Hz]', fontSize: 22.5, fontFamily: FONT, fill: '#000', align: 'center', verticalAlign: 'middle' },
        },
        {
          type: 'text',
          x: 27,
          y: 253,
          rotation: Math.PI / 2,
          silent: true,
          style: { text: 'TDI - X', fontSize: 22.5, fontFamily: FONT, fill: '#000', align: 'center', verticalAlign: 'middle' },
        },
      ],
      series: [
        lineSeries(NAMES[0], noJitter, '#1f77b4', 2),
        lineSeries(NAMES[3], noDynamics, '#d62728', 3),
        lineSeries(NAMES[2], thrustOff, '#2ca02c', 4),
        lineSeries(NAMES[1], thrustOn, '#ff7f0e', 5),
        lineSeries(NAMES[4], dragFreeDrop, '#4d4d4d', 6, [5.5, 2.4]),
      ],
    });

    return () => chart.dispose();
  }, []);

  return (
    <div
      ref={ref}
      style={{ position: 'fixed', left: 0, top: 0, width: 672, height: 601, background: '#fff' }}
    />
  );
}
